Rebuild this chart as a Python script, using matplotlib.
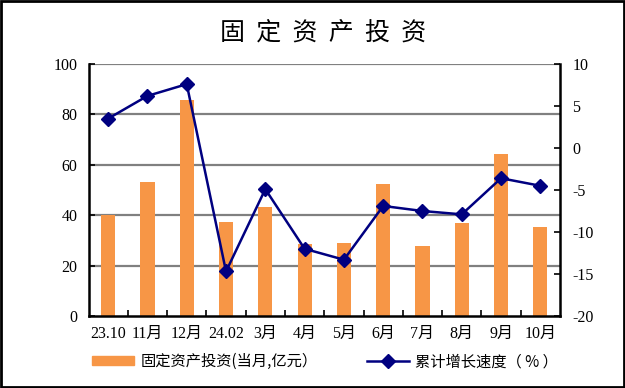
import numpy as np
import matplotlib.pyplot as plt
from matplotlib.patches import Rectangle
from matplotlib.lines import Line2D

plt.rcParams['font.family'] = ['Liberation Serif', 'Noto Sans CJK SC']
plt.rcParams['axes.unicode_minus'] = False

months = ["23.10", "11月", "12月", "24.02", "3月", "4月", "5月", "6月", "7月", "8月", "9月", "10月"]
invest = [40.0, 53.1, 85.9, 37.2, 43.1, 28.5, 28.9, 52.2, 27.7, 36.8, 64.1, 35.2]
growth = [3.5, 6.2, 7.6, -14.7, -4.9, -12.0, -13.3, -6.9, -7.5, -7.9, -3.6, -4.5]

bar_color = "#F79646"
line_color = "#000080"
cjk = ['Noto Sans CJK SC', 'DejaVu Sans']

fig = plt.figure(figsize=(6.25, 3.88), dpi=100)
ax = fig.add_axes([88.5 / 625, 72 / 388, (560 - 88.5) / 625, (316 - 64) / 388])
x = np.arange(len(months))

ax.bar(x, invest, width=0.36, color=bar_color, zorder=2)
ax.set_ylim(0, 100)
ax.set_xlim(-0.5, len(months) - 0.5)
ax.set_yticks(np.arange(0, 101, 20))
for v in np.arange(20, 101, 20):
    ax.axhline(v, color="#808080", lw=1.6, zorder=1)

ax.set_xticks(x)
ax.set_xticklabels(months, fontsize=11.5)
ax.set_xticks(x[:-1] + 0.5, minor=True)
ax.tick_params(axis='x', which='major', length=0, pad=7)
ax.tick_params(axis='x', which='minor', direction='in', length=4, width=1.2)
ax.tick_params(axis='y', direction='in', length=4, width=1.2, labelsize=11.5, pad=8)

for s in ["left", "bottom"]:
    ax.spines[s].set_linewidth(1.8)
ax.spines["top"].set_visible(False)
ax.spines["right"].set_visible(False)

ax2 = ax.twinx()
ax2.plot(x, growth, color=line_color, lw=1.8, marker="D", markersize=7, zorder=3)
ax2.set_ylim(-20, 10)
ax2.set_yticks(np.arange(-20, 11, 5))
ax2.tick_params(axis='y', direction='in', length=4, width=1.2, labelsize=11.5, pad=9)
ax2.spines["right"].set_linewidth(1.8)
ax2.spines["top"].set_visible(False)
ax2.spines["left"].set_visible(False)
ax2.spines["bottom"].set_visible(False)

fig.text(0.517, 0.915, "固  定  资  产  投  资", ha="center", va="center",
         fontsize=18, family=cjk, weight="medium")

handles = [Rectangle((0, 0), 1, 1, color=bar_color),
           Line2D([], [], color=line_color, lw=1.8, marker="D", markersize=7)]
labels = ["固定资产投资(当月,亿元）", "累计增长速度（ % ）"]
fig.legend(handles, labels, loc="center", bbox_to_anchor=(0.52, 0.068), ncol=2,
           frameon=False, prop={'family': cjk, 'size': 11},
           handlelength=2.8, handleheight=0.55, columnspacing=3.2, handletextpad=0.4)

fig.patches.append(Rectangle((0.002, 0.003), 0.996, 0.994, transform=fig.transFigure,
                             fill=False, edgecolor="black", lw=2))

fig.savefig("out.png", dpi=100)
